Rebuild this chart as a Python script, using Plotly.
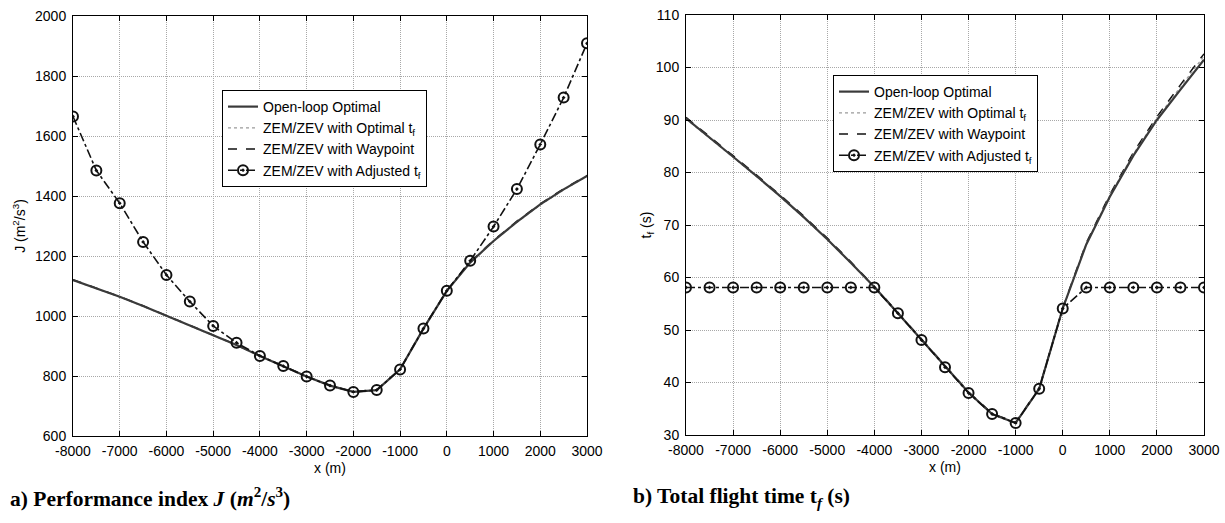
import plotly.graph_objects as go

# ---------------- data ----------------
x_pos = [-8000, -7500, -7000, -6500, -6000, -5500, -5000, -4500, -4000, -3500, -3000,
         -2500, -2000, -1500, -1000, -500, 0, 500, 1000, 1500, 2000, 2500, 3000]

# (a) performance index J
J_openloop = [1120, 1092, 1064, 1033, 1001, 969, 937, 903, 867, 833, 798,
              768, 747, 753, 822, 958, 1084, 1178, 1250, 1314, 1372, 1422, 1467]
J_zem_opt = [1119, 1091, 1063, 1032, 1000, 968, 936, 902, 866, 832, 797,
             767, 746, 752, 821, 957, 1083, 1177, 1249, 1312, 1370, 1420, 1465]
J_zem_wp = [1121, 1093, 1065, 1034, 1002, 970, 938, 904, 868, 834, 799,
            769, 748, 754, 823, 959, 1085, 1180, 1252, 1316, 1374, 1424, 1469]
J_zem_adj = [1665, 1485, 1376, 1247, 1137, 1048, 967, 911, 867, 833, 798,
             768, 747, 753, 822, 958, 1084, 1184, 1298, 1423, 1572, 1728, 1909]

# (b) total flight time tf
tf_openloop = [90.3, 86.7, 83.0, 79.3, 75.5, 71.5, 67.3, 62.8, 58.2, 53.2, 48.1,
               43.0, 38.1, 34.0, 32.3, 38.8, 54.1, 66.3, 75.4, 83.2, 90.0, 95.8, 101.5]
tf_zem_opt = [90.2, 86.6, 82.9, 79.2, 75.4, 71.4, 67.2, 62.7, 58.1, 53.1, 48.0,
              42.9, 38.0, 33.9, 32.2, 38.7, 54.0, 66.4, 75.6, 83.5, 90.3, 96.3, 102.2]
tf_zem_wp = [90.5, 86.9, 83.2, 79.5, 75.7, 71.7, 67.5, 63.0, 58.3, 53.3, 48.2,
             43.1, 38.2, 34.1, 32.4, 38.9, 54.2, 66.6, 75.8, 83.8, 90.6, 96.7, 102.6]
tf_zem_adj = [58.1, 58.1, 58.1, 58.1, 58.1, 58.1, 58.1, 58.1, 58.1, 53.2, 48.1,
              42.9, 38.0, 34.0, 32.3, 38.8, 54.1, 58.1, 58.1, 58.1, 58.1, 58.1, 58.1]

names = ["Open-loop Optimal", "ZEM/ZEV with Optimal t<sub>f</sub>",
         "ZEM/ZEV with Waypoint", "ZEM/ZEV with Adjusted t<sub>f</sub>"]

x_ticks = [-8000, -7000, -6000, -5000, -4000, -3000, -2000, -1000, 0, 1000, 2000, 3000]
J_ticks = [600, 800, 1000, 1200, 1400, 1600, 1800, 2000]
tf_ticks = [30, 40, 50, 60, 70, 80, 90, 100, 110]

# ---------------- figure ----------------
fig = go.Figure()

styles = [
    dict(mode="lines", line=dict(color="#3a3a3a", width=2.2, dash="solid")),
    dict(mode="lines", line=dict(color="#9a9a9a", width=1.2, dash="dot")),
    dict(mode="lines", line=dict(color="#111111", width=1.5, dash="dash")),
    dict(mode="lines+markers", line=dict(color="#111111", width=1.6, dash="dashdot"),
         marker=dict(symbol="circle-open-dot", size=10, color="#111111",
                     line=dict(width=2, color="#111111"))),
]

series_a = [J_openloop, J_zem_opt, J_zem_wp, J_zem_adj]
series_b = [tf_openloop, tf_zem_opt, tf_zem_wp, tf_zem_adj]
order = [2, 1, 0, 3]
legend_rank = {0: 1, 1: 2, 2: 3, 3: 4}

for i in order:
    fig.add_trace(go.Scatter(x=x_pos, y=series_a[i], name=names[i], xaxis="x", yaxis="y",
                             legend="legend", legendrank=legend_rank[i], **styles[i]))
for i in order:
    fig.add_trace(go.Scatter(x=x_pos, y=series_b[i], name=names[i], xaxis="x2", yaxis="y2",
                             legend="legend2", legendrank=legend_rank[i], **styles[i]))

W, H = 1225, 523
FONT = "Liberation Sans, Arial, sans-serif"
tick_font = dict(family=FONT, size=14, color="black")
grid = dict(showgrid=True, gridcolor="#a8a8a8", griddash="1px,1px", gridwidth=1)

def xaxis_cfg(domain, anchor):
    return dict(domain=domain, anchor=anchor, range=[-8000, 3000], tickvals=x_ticks,
                ticktext=[str(v) for v in x_ticks], ticks="inside", ticklen=5,
                tickcolor="black", showline=True, linecolor="black", linewidth=1,
                mirror="ticks", zeroline=False, tickfont=tick_font, ticklabelstandoff=2,
                automargin=False,
                title=dict(text="x (m)", font=tick_font, standoff=5), **grid)

def yaxis_cfg(domain, anchor, rng, tv, title, standoff):
    return dict(domain=domain, anchor=anchor, range=rng, tickvals=tv,
                ticks="inside", ticklen=5, tickcolor="black", showline=True,
                linecolor="black", linewidth=1, mirror="ticks", zeroline=False,
                tickfont=tick_font, ticklabelstandoff=3, automargin=False,
                title=dict(text=title, font=tick_font, standoff=standoff), **grid)

legend_common = dict(xanchor="left", yanchor="top", bgcolor="white", bordercolor="black",
                     borderwidth=1, font=dict(family=FONT, size=14, color="black"),
                     tracegroupgap=0, itemwidth=30)

fig.update_layout(
    width=W, height=H,
    margin=dict(l=0, r=0, t=0, b=0, autoexpand=False),
    paper_bgcolor="white", plot_bgcolor="white",
    font=dict(family=FONT, size=14, color="black"),
    xaxis=xaxis_cfg([73 / W, 587 / W], "y"),
    yaxis=yaxis_cfg([1 - 436 / H, 1 - 16 / H], "x", [600, 2000], J_ticks,
                    "J (m<sup>2</sup>/s<sup>3</sup>)", 6),
    xaxis2=xaxis_cfg([686 / W, 1204 / W], "y2"),
    yaxis2=yaxis_cfg([1 - 435 / H, 1 - 15 / H], "x2", [30, 110], tf_ticks,
                     "t<sub>f</sub> (s)", 0),
    legend=dict(x=222 / W, y=1 - 90 / H, **legend_common),
    legend2=dict(x=833 / W, y=1 - 75 / H, **legend_common),
    showlegend=True,
)

cap_font = dict(family="Liberation Serif, Times New Roman, serif", size=21.5, color="black")
fig.add_annotation(x=8 / W, y=1 - 497 / H, xref="paper", yref="paper", xanchor="left",
                   yanchor="middle", showarrow=False, font=cap_font,
                   text="<b>a) Performance index <i>J</i> (<i>m</i><sup>2</sup>/<i>s</i><sup>3</sup>)</b>")
fig.add_annotation(x=631 / W, y=1 - 497 / H, xref="paper", yref="paper", xanchor="left",
                   yanchor="middle", showarrow=False, font=cap_font,
                   text="<b>b) Total flight time t<sub><i>f</i></sub> (s)</b>")

fig.write_html("out.html")
